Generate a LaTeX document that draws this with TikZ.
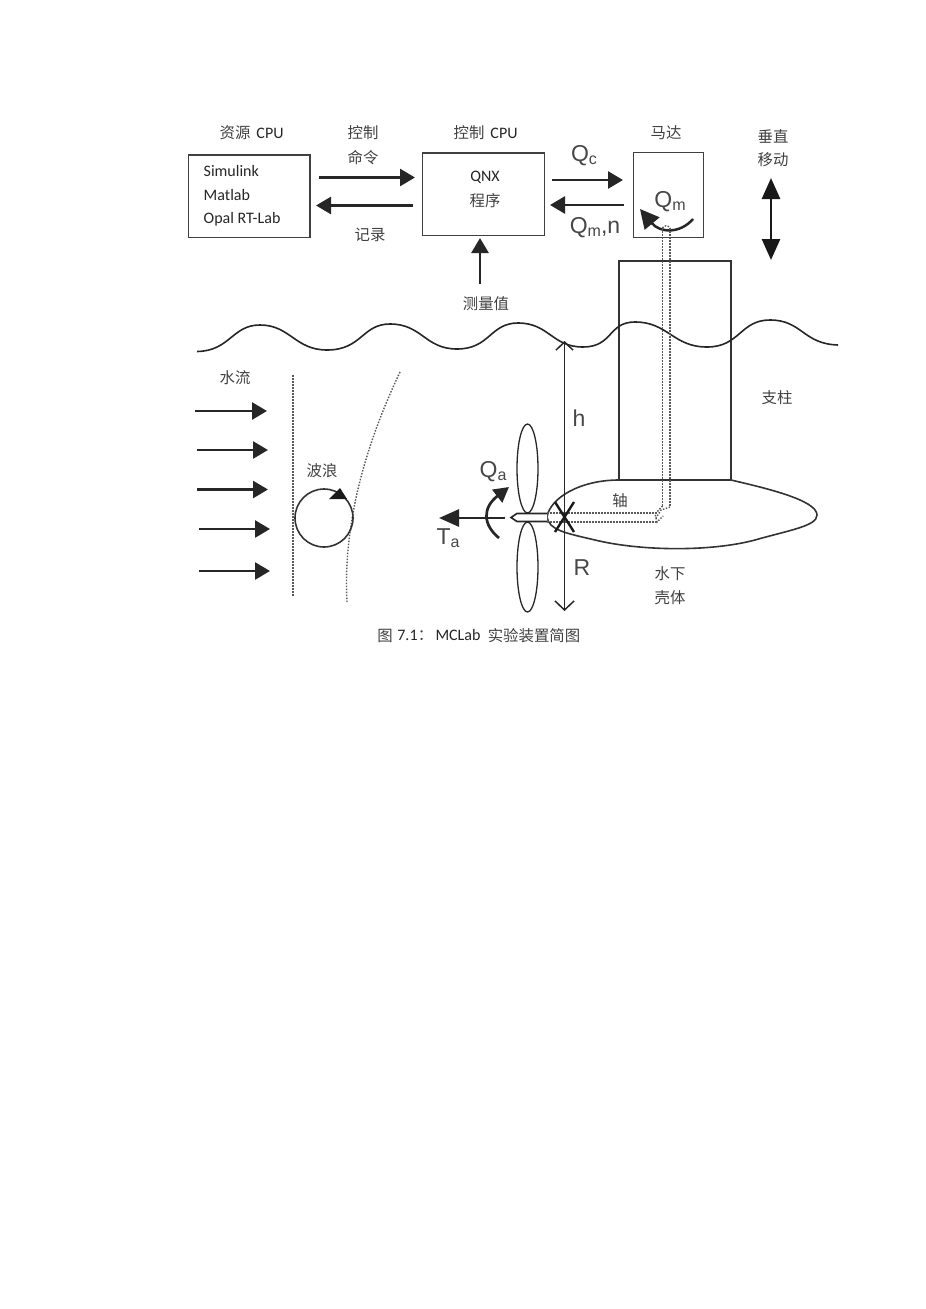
\documentclass[tikz,border=0pt]{standalone}
\usepackage{fontspec}
\usepackage{tikz}
\usetikzlibrary{arrows.meta,shapes.geometric}
\setmainfont{Carlito}
\newfontfamily\cjk{Noto Sans CJK SC}[Scale=0.95]
\newfontfamily\qfont{Liberation Sans}
\tikzset{
  box/.style={draw=black!75,line width=1.7pt,inner sep=0pt,anchor=north west},
  lab/.style={font=\fontsize{16.2}{18}\selectfont\cjk,inner sep=0pt,text=black!75,yshift=-1pt},
  latin/.style={font=\fontsize{16}{18}\selectfont,inner sep=0pt,text=black!85},
  qlab/.style={font=\fontsize{23}{25}\selectfont\qfont,inner sep=0pt,text=black!72},
  flow/.style={line width=2.7pt,black!85,-{Triangle[length=15pt,width=17pt]}},
  thin line/.style={black!80,line width=1.6pt},
  dots/.style={black!65,line width=1.4pt,dash pattern=on 1.5pt off 1.5pt}
}
\newcommand{\qsub}[2]{#1\raisebox{-3pt}{\fontsize{16}{16}\selectfont #2}}
\begin{document}
\begin{tikzpicture}[x=1pt,y=-1pt]
\useasboundingbox (0,0) rectangle (926,1309);

% boxes
\node [box,minimum width=121.5pt,minimum height=82.5pt] (source) at (187.5,154) {};
\node [box,minimum width=122pt,minimum height=82.5pt] (ctrl) at (421.5,152) {};
\node [box,minimum width=70pt,minimum height=85pt] (motor) at (632.5,151.5) {};
\coordinate (strutA) at (619,480);
\coordinate (strutB) at (619,261);
\coordinate (strutC) at (731,261);
\coordinate (strutD) at (731,480);
\draw [thin line] (strutA) -- (strutB) -- (strutC) -- (strutD);

% texts at the top
\node [lab] (srchead) at (235,132) {资源};
\node [latin] (srccpu) at (270,133) {CPU};
\node [lab] (cmdA) at (363,132) {控制};
\node [lab] (cmdB) at (363,157) {命令};
\node [lab] (ctrlhead) at (469,132) {控制};
\node [latin] (ctrlcpu) at (504,133) {CPU};
\node [lab] (motorhead) at (666,132) {马达};
\node [lab] (vertA) at (773,135) {垂直};
\node [lab] (vertB) at (773,159) {移动};
\node [latin,anchor=west] (simu) at (203.5,171) {Simulink};
\node [latin,anchor=west] (matl) at (203.5,195) {Matlab};
\node [latin,anchor=west] (opal) at (203.5,219) {Opal RT-Lab};
\node [latin] (qnx) at (485,177) {QNX};
\node [lab] (prog) at (485,200) {程序};
\node [lab] (logtxt) at (370,234) {记录};
\node [lab] (meas) at (486,303) {测量值};

% arrows between the boxes
\coordinate (cmdS) at (319,177.5);
\coordinate (cmdE) at (415,177.5);
\coordinate (logS) at (413,205.5);
\coordinate (logE) at (316,205.5);
\coordinate (measS) at (480,284);
\coordinate (measE) at (480,238);
\coordinate (qcS) at (552,180);
\coordinate (qcE) at (623,180);
\coordinate (qmS) at (624,205);
\coordinate (qmE) at (550,205);
\draw [flow] (cmdS) -- (cmdE);
\draw [flow] (logS) -- (logE);
\draw [flow] (measS) -- (measE);
\draw [flow] (qcS) -- (qcE);
\draw [flow] (qmS) -- (qmE);
\node [qlab] (qc) at (584,156) {\qsub{Q}{c}};
\node [qlab] (qmn) at (595,228) {\qsub{Q}{m},n};
\node [qlab] (qm) at (670,202) {\qsub{Q}{m}};
\coordinate (arcS) at (693,219);
\coordinate (arcE) at (640,209);
\draw [line width=2.5pt,black!85,-{Triangle[length=19pt,width=19pt]}] (arcS) .. controls (680,234) and (660,233) .. (arcE);

% vertical motion
\coordinate (vertT) at (771,178);
\coordinate (vertL) at (771,260);
\draw [line width=2.7pt,black!90,{Triangle[length=21pt,width=18pt]}-{Triangle[length=21pt,width=18pt]}] (vertT) -- (vertL);

% water surface
\draw [black!85,line width=1.6pt] (197,351.5) .. controls (230,351) and (232,325) .. (260,325)
  .. controls (290,325) and (295,350) .. (327,350)
  .. controls (362,350) and (362,324) .. (390,324)
  .. controls (422,324) and (425,349) .. (457,349)
  .. controls (490,349) and (490,323) .. (518,323)
  .. controls (549,323) and (552,347) .. (583,347)
  .. controls (613,347) and (608,322) .. (635,322)
  .. controls (668,322) and (673,347) .. (707,347)
  .. controls (740,347) and (740,320) .. (770,320)
  .. controls (802,320) and (803,344) .. (838,345);

% current and wave
\node [lab] (curtxt) at (235,377) {水流};
\node [lab] (wavetxt) at (322,470) {波浪};
\foreach \i/\xa/\xb/\yy in {1/195/267/411,2/197/268/450,3/197/268/489.5,4/199/270/529,5/199/270/571}{
  \coordinate (fS\i) at (\xa,\yy);
  \coordinate (fE\i) at (\xb,\yy);
  \draw [flow] (fS\i) -- (fE\i);
}
\coordinate (dotT) at (293,375);
\coordinate (dotB) at (293,597);
\draw [dots] (dotT) -- (dotB);
\coordinate (curveT) at (400,372);
\coordinate (curveB) at (347,602);
\draw [dots] (curveT) .. controls (375,425) and (342,510) .. (curveB);
\node [circle,draw=black!80,line width=1.6pt,minimum size=58pt,inner sep=0pt] (wave) at (324,518) {};
\fill [black!90] (329,499) -- (340,488) -- (347,499) -- cycle;

% strut and shaft
\node [lab] (struttxt) at (777,397) {支柱};
\node [lab] (shafttxt) at (620,500) {轴};
\node [lab] (hullA) at (670,573) {水下};
\node [lab] (hullB) at (670,597) {壳体};

% hull
\draw [black!80,line width=1.6pt] (547,517) .. controls (550,498) and (580,480) .. (strutA) -- (strutD)
  .. controls (765,488) and (817,500) .. (817,515)
  .. controls (817,526) and (790,530) .. (755,540)
  .. controls (710,552) and (640,551) .. (595,540)
  .. controls (565,533) and (549,530) .. (547,517);

% shaft lines
\coordinate (shUa) at (547,513);
\coordinate (shUb) at (657,513);
\coordinate (shLa) at (547,522);
\coordinate (shLb) at (657,522);
\coordinate (shVa) at (662.5,228);
\coordinate (shVb) at (662.5,506);
\coordinate (shWa) at (670,228);
\coordinate (shWb) at (670,507);
\draw [dots] (shUa) -- (shUb);
\draw [dots] (shLa) -- (shLb);
\draw [dots] (shVa) -- (shVb);
\draw [dots] (shWa) -- (shWb);
\draw [dots] (shVb) -- (655,514) -- (657,522) -- (663,516);
\draw [dots] (shWb) -- (661,510) -- (656,518);
\draw [dots] (shVa) .. controls (664,225) and (668,225) .. (shWa);

% propeller
\node [ellipse,draw=black!85,line width=1.3pt,minimum width=21pt,minimum height=89pt,inner sep=0pt] (bladeU) at (527.5,468.5) {};
\node [ellipse,draw=black!85,line width=1.3pt,minimum width=21pt,minimum height=90pt,inner sep=0pt] (bladeL) at (527.5,567) {};
\draw [black!85,line width=1.6pt,fill=white] (547,513.5) -- (517,513.5) -- (511,517.5) -- (517,521.5) -- (547,521.5);

% depth arrow
\coordinate (depT) at (564.5,341);
\coordinate (depB) at (564.5,611);
\draw [black!85,line width=1.5pt,{Straight Barb[length=8pt,width=17pt]}-{Straight Barb[length=9pt,width=19pt]}] (depT) -- (depB);
\draw [black!90,line width=2.4pt] (555,502) -- (574,532) (574,502) -- (555,532);
\node [qlab] (htxt) at (579,418) {h};
\node [qlab] (rtxt) at (582,568) {R};

% thrust and torque
\coordinate (taS) at (505,518);
\coordinate (taE) at (439,518);
\draw [flow,-{Triangle[length=20pt,width=17pt]}] (taS) -- (taE);
\coordinate (qaS) at (499,538);
\coordinate (qaE) at (509,487);
\draw [line width=2.7pt,black!85,-{Triangle[length=15pt,width=16pt]}] (qaS) .. controls (483,525) and (482,508) .. (qaE);
\node [qlab] (qa) at (493,472) {\qsub{Q}{a}};
\node [qlab] (ta) at (448,538) {\qsub{T}{a}};

% caption
\node [lab] (capA) at (385,635) {图};
\node [latin] (capB) at (407.5,635) {7.1};
\node [lab] (capD) at (425.5,635) {：};
\node [latin] (capE) at (458,635) {MCLab};
\node [lab] (capC) at (534,635) {实验装置简图};

\end{tikzpicture}
\end{document}
